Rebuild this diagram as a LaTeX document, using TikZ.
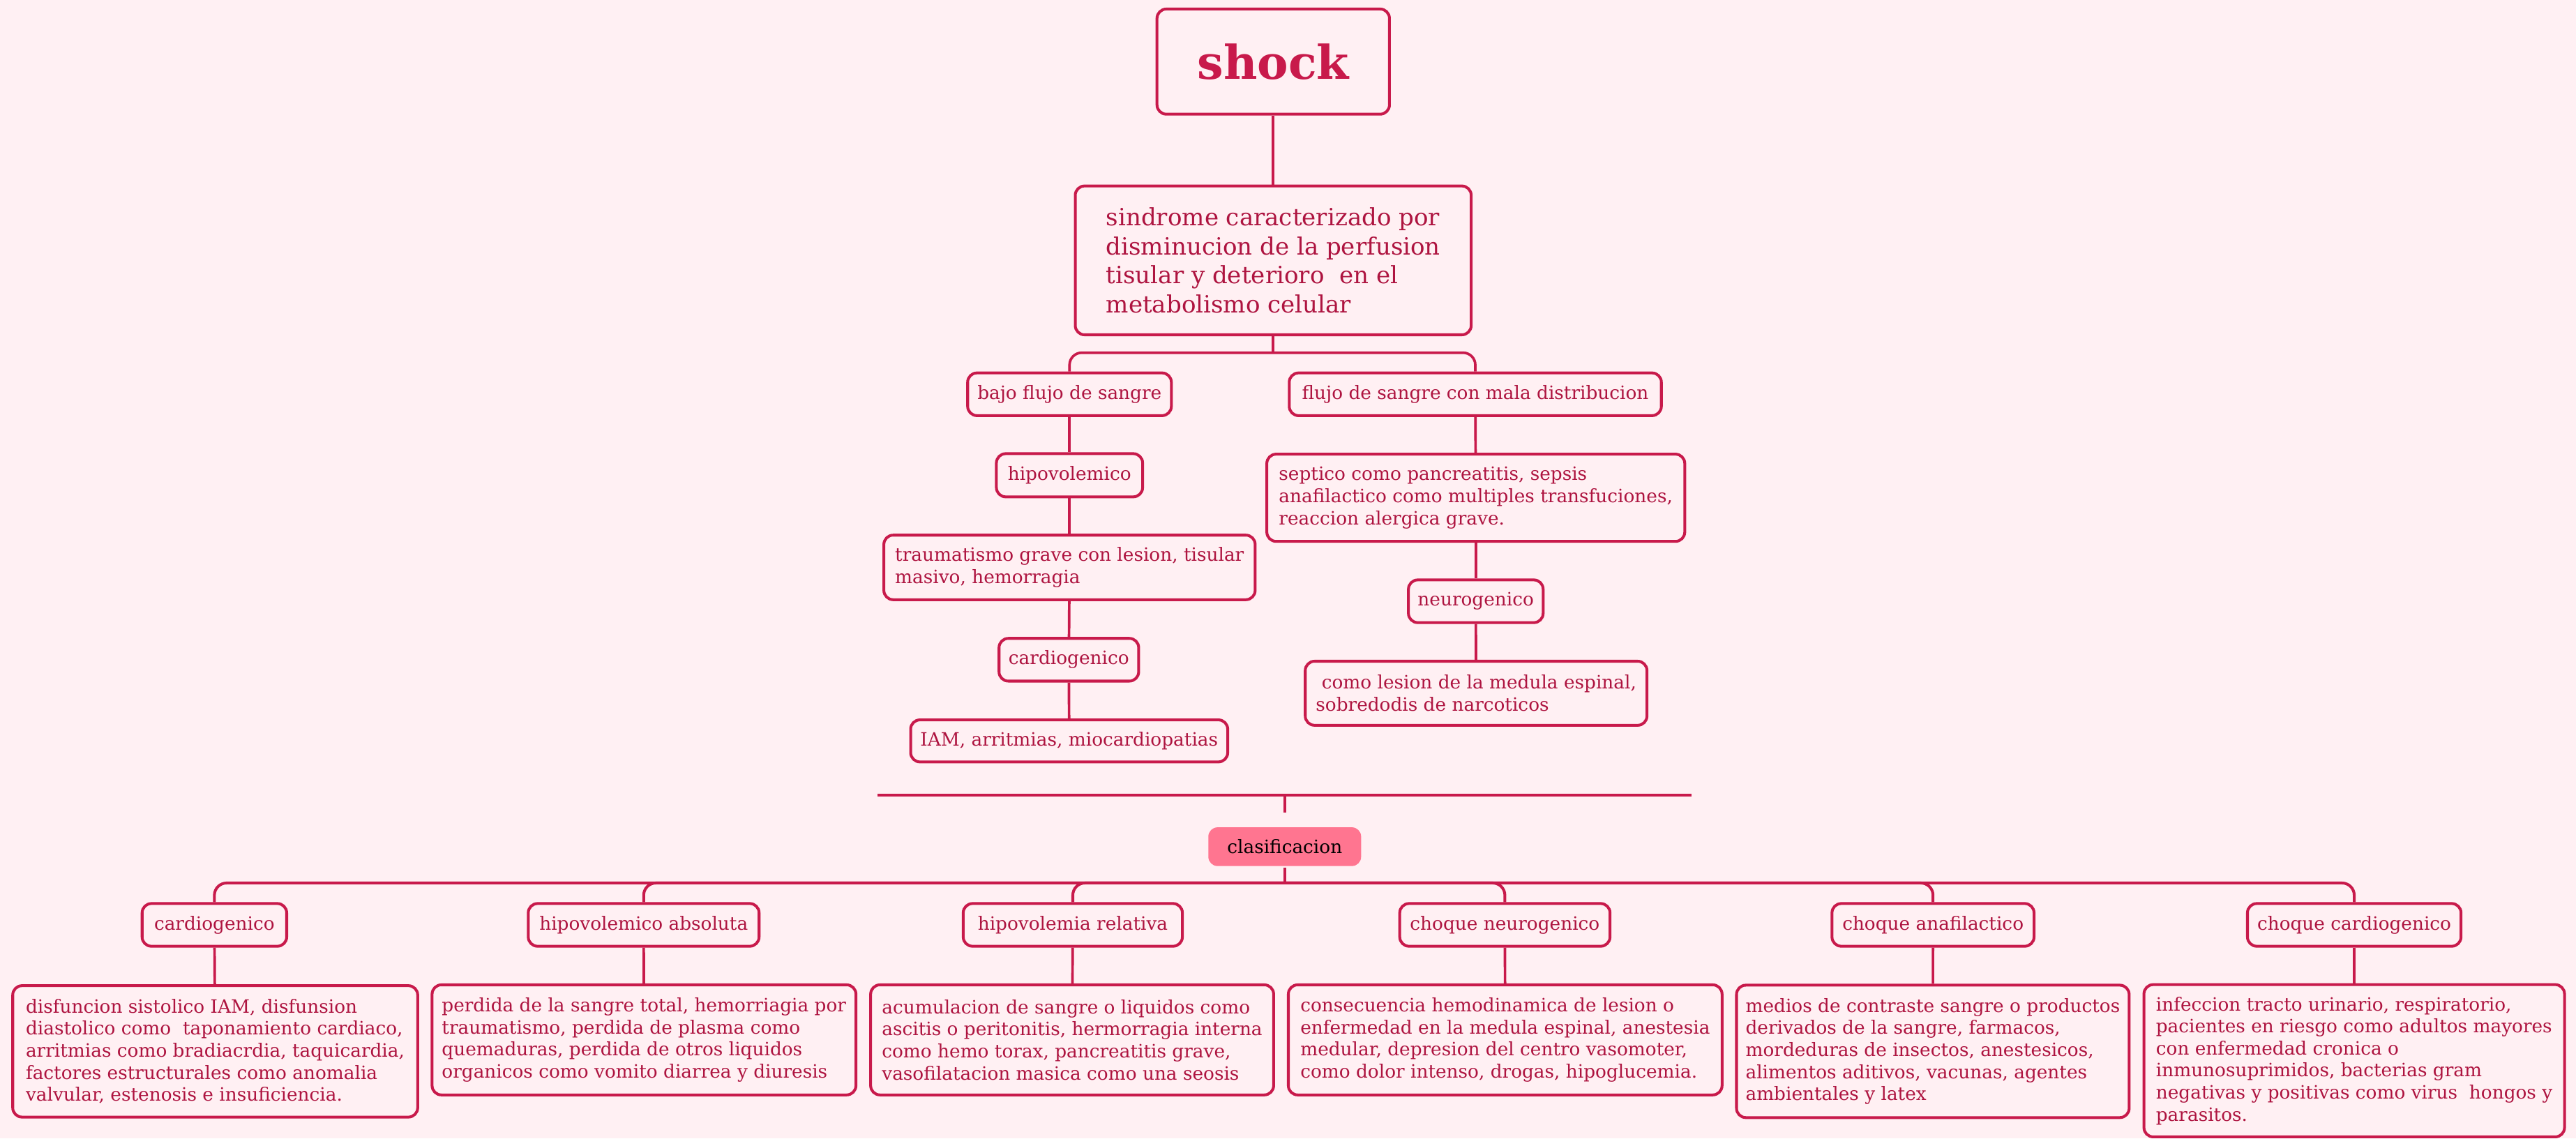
\documentclass[tikz,border=0pt]{standalone}
\usepackage{fontspec}
\setmainfont{DejaVu Serif}
\usepackage{tikz}
\definecolor{shockbg}{HTML}{FFF0F3}
\definecolor{shockline}{HTML}{C81A4B}
\definecolor{shocktext}{HTML}{AE1440}
\definecolor{clasiffill}{HTML}{FF7590}
\tikzset{
  box/.style={draw=shockline, line width=1.15pt, rounded corners=3.8pt, fill=shockbg, text=shocktext, inner sep=1pt, align=left, font=\fontsize{7.5}{9}\selectfont},
  boxsize/.style 2 args={minimum width=#1*0.6704pt, minimum height=#2*0.6704pt},
  link/.style={draw=shockline, line width=1.05pt},
}

\begin{document}
\begin{tikzpicture}[x=0.6704pt, y=-0.6704pt]
\path[fill=shockbg, use as bounding box] (0,0) rectangle (1568,693);
\node[box, boxsize={141.5}{64}, font=\fontsize{19}{22}\selectfont\bfseries, text=shockline] (shock) at (775,37.5) {shock};
\node[box, boxsize={241}{90.6}, font=\fontsize{9.7}{11.9}\selectfont] (sindrome) at (775,158.5) {sindrome caracterizado por\\disminucion de la perfusion\\tisular y deterioro\ \ en el\\metabolismo celular};
\node[box, boxsize={124}{26}] (bajo) at (651,240) {bajo flujo de sangre};
\node[box, boxsize={226.5}{26}] (flujo) at (898,240) {flujo de sangre con mala distribucion};
\node[box, boxsize={89}{26.3}] (hipo) at (651,289.3) {hipovolemico};
\node[box, boxsize={226}{39.3}] (traum) at (651,345.4) {traumatismo grave con lesion, tisular\\masivo, hemorragia};
\node[box, boxsize={85}{26}] (cardmid) at (650.6,401.6) {cardiogenico};
\node[box, boxsize={193}{25.6}] (iam) at (650.8,451) {IAM, arritmias, miocardiopatias};
\node[box, boxsize={254.4}{53.1}] (septico) at (898.3,303) {septico como pancreatitis, sepsis\\anafilactico como multiples transfuciones,\\reaccion alergica grave.};
\node[box, boxsize={82}{26}] (neuro) at (898.3,366) {neurogenico};
\node[box, boxsize={208}{39}] (lesion) at (898.5,422) {\ como lesion de la medula espinal,\\sobredodis de narcoticos};
\node[box, boxsize={93}{23.6}, draw=none, fill=clasiffill, text=black] (clasif) at (782,515.4) {clasificacion};
\node[box, boxsize={88}{26}] (l1) at (130.5,563) {cardiogenico};
\node[box, boxsize={140.5}{26}] (l2) at (391.8,563) {hipovolemico absoluta};
\node[box, boxsize={133.4}{26}] (l3) at (653,563) {hipovolemia relativa};
\node[box, boxsize={128}{26}] (l4) at (916,563) {choque neurogenico};
\node[box, boxsize={123}{26}] (l5) at (1176.6,563) {choque anafilactico};
\node[box, boxsize={130}{26}] (l6) at (1433,563) {choque cardiogenico};
\node[box, boxsize={246.5}{80}] (d1) at (131,640) {disfuncion sistolico IAM, disfunsion\\diastolico como\ \ taponamiento cardiaco,\\arritmias como bradiacrdia, taquicardia,\\factores estructurales como anomalia\\valvular, estenosis e insuficiencia.};
\node[box, boxsize={258}{67}] (d2) at (392,633) {perdida de la sangre total, hemorriagia por\\traumatismo, perdida de plasma como\\quemaduras, perdida de otros liquidos\\organicos como vomito diarrea y diuresis};
\node[box, boxsize={245.3}{67}] (d3) at (652.6,633) {acumulacion de sangre o liquidos como\\ascitis o peritonitis, hermorragia interna\\como hemo torax, pancreatitis grave,\\vasofilatacion masica como una seosis};
\node[box, boxsize={264}{67}] (d4) at (916.2,633) {consecuencia hemodinamica de lesion o\\enfermedad en la medula espinal, anestesia\\medular, depresion del centro vasomoter,\\como dolor intenso, drogas, hipoglucemia.};
\node[box, boxsize={239}{80.6}] (d5) at (1176.5,640) {medios de contraste sangre o productos\\derivados de la sangre, farmacos,\\mordeduras de insectos, anestesicos,\\alimentos aditivos, vacunas, agentes\\ambientales y latex};
\node[box, boxsize={256}{92.7}] (d6) at (1433,645.7) {infeccion tracto urinario, respiratorio,\\pacientes en riesgo como adultos mayores\\con enfermedad cronica o\\inmunosuprimidos, bacterias gram\\negativas y positivas como virus\ \ hongos y\\parasitos.};
\coordinate (split) at (775,214.7);
\coordinate (sepleft) at (534,484);
\coordinate (sepright) at (1029.4,484);
\coordinate (septick) at (782,484);
\coordinate (tickend) at (782,494.6);
\coordinate (bus) at (782,537.5);
\draw[link] (shock) -- (sindrome);
\draw[link] (sindrome) -- (split);
\draw[link, rounded corners=5pt] (bajo.north) |- (split) -| (flujo.north);
\draw[link] (bajo) -- (hipo);
\draw[link] (hipo) -- (traum);
\draw[link] (traum) -- (cardmid);
\draw[link] (cardmid) -- (iam);
\draw[link] (flujo) -- (septico);
\draw[link] (septico) -- (neuro);
\draw[link] (neuro) -- (lesion);
\draw[link, line width=1.15pt] (sepleft) -- (sepright);
\draw[link] (septick) -- (tickend);
\draw[link] (clasif) -- (bus);
\foreach \lab in {l1,l2,l3,l4,l5,l6}
  \draw[link, line width=1.15pt, rounded corners=5pt] (bus) -| (\lab.north);
\draw[link] (l1) -- (d1);
\draw[link] (l2) -- (d2);
\draw[link] (l3) -- (d3);
\draw[link] (l4) -- (d4);
\draw[link] (l5) -- (d5);
\draw[link] (l6) -- (d6);
\end{tikzpicture}
\end{document}
